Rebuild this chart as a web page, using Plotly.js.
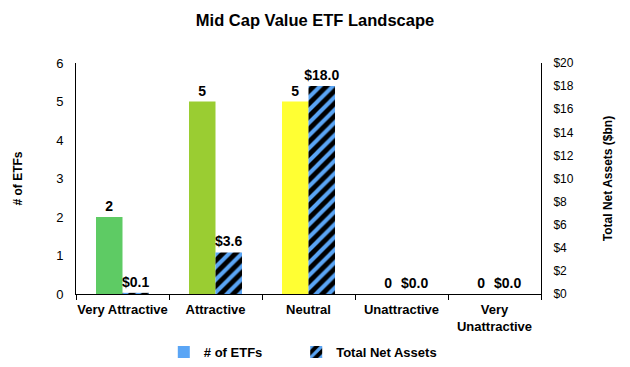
<!DOCTYPE html>
<html><head><meta charset="utf-8">
<script src="https://cdn.plot.ly/plotly-3.0.1.min.js"></script>
<style>html,body{margin:0;padding:0;background:#fff}#chart{width:630px;height:367px}</style>
</head><body><div id="chart"></div>
<script>
const categories = ["Very Attractive", "Attractive", "Neutral", "Unattractive", "Very<br>Unattractive"];
const etfCounts = [2, 5, 5, 0, 0];
const netAssets = [0.1, 3.6, 18.0, 0.0, 0.0];
const countColors = ["#5ecb64", "#9acd32", "#ffff33", "#5aa5f5", "#5aa5f5"];
const countLabels = etfCounts.map(v => String(v));
const assetLabels = netAssets.map(v => "$" + v.toFixed(1));
const leftTicks = [0, 1, 2, 3, 4, 5, 6];
const rightTicks = [0, 2, 4, 6, 8, 10, 12, 14, 16, 18, 20];
const rightTickText = rightTicks.map(v => "$" + v);
const seriesNames = ["# of ETFs", "Total Net Assets"];

const F = "Liberation Sans, Arial, sans-serif";
const bold = {family: F, size: 12, color: "#000", weight: 700};
const bold13 = {family: F, size: 13, color: "#000", weight: 700};
const labelFont = {family: F, size: 14, color: "#000", weight: 700};
const pad = "\u00a0".repeat(8);

const traces = [
  {type: "bar", x: categories, y: etfCounts, name: seriesNames[0], showlegend: false,
   width: 0.285, offset: -0.285, marker: {color: countColors},
   text: countLabels, textposition: "outside", constraintext: "none", textfont: labelFont, cliponaxis: false, yaxis: "y"},
  {type: "bar", x: categories, y: netAssets, name: seriesNames[1],
   width: 0.285, offset: 0,
   marker: {color: "#5aa5f5", pattern: {shape: "/", bgcolor: "#000000", fgcolor: "#5aa5f5", size: 9, solidity: 0.45, fillmode: "replace"}},
   text: assetLabels, textposition: "outside", constraintext: "none", textfont: labelFont, cliponaxis: false, yaxis: "y2"},
  {type: "bar", x: [null], y: [null], name: seriesNames[0] + pad, marker: {color: "#5aa5f5"}, yaxis: "y", hoverinfo: "skip"}
];

const layout = {
  width: 630, height: 367,
  margin: {l: 76, r: 89, t: 63, b: 73},
  paper_bgcolor: "#fff", plot_bgcolor: "#fff",
  font: {family: F, size: 12, color: "#000"},
  title: {text: "Mid Cap Value ETF Landscape", font: {family: F, size: 16.5, weight: 700, color: "#000"},
          x: 0.5, xanchor: "center", y: 0.945, yanchor: "middle"},
  barmode: "overlay",
  showlegend: true,
  legend: {orientation: "h", xref: "container", yref: "container", x: 0.260, xanchor: "left", y: 0.041, yanchor: "middle", font: bold13,
           traceorder: "reversed", itemwidth: 30},
  xaxis: {type: "category", automargin: false, showline: true, linecolor: "#000", linewidth: 1, ticks: "outside", tickcolor: "#000", ticklen: 5,
          tickson: "boundaries", tickangle: 0, showgrid: false, tickfont: bold13, ticklabelstandoff: 3, fixedrange: true},
  yaxis: {range: [0, 6], automargin: false, tickvals: leftTicks, showline: true, linecolor: "#000", showgrid: false, zeroline: false,
          ticks: "", ticklabelstandoff: 9, tickfont: {family: F, size: 13, color: "#000"},
          title: {text: "# of ETFs", font: bold, standoff: 30}},
  yaxis2: {range: [0, 20], automargin: false, tickvals: rightTicks, ticktext: rightTickText, overlaying: "y", side: "right",
           showline: true, linecolor: "#000", showgrid: false, zeroline: false, ticks: "", ticklabelstandoff: 9,
           tickfont: {family: F, size: 12, color: "#000"},
           title: {text: "Total Net Assets ($bn)", font: bold, standoff: 30}}
};

Plotly.newPlot("chart", traces, layout, {displayModeBar: false, staticPlot: true});
</script></body></html>
